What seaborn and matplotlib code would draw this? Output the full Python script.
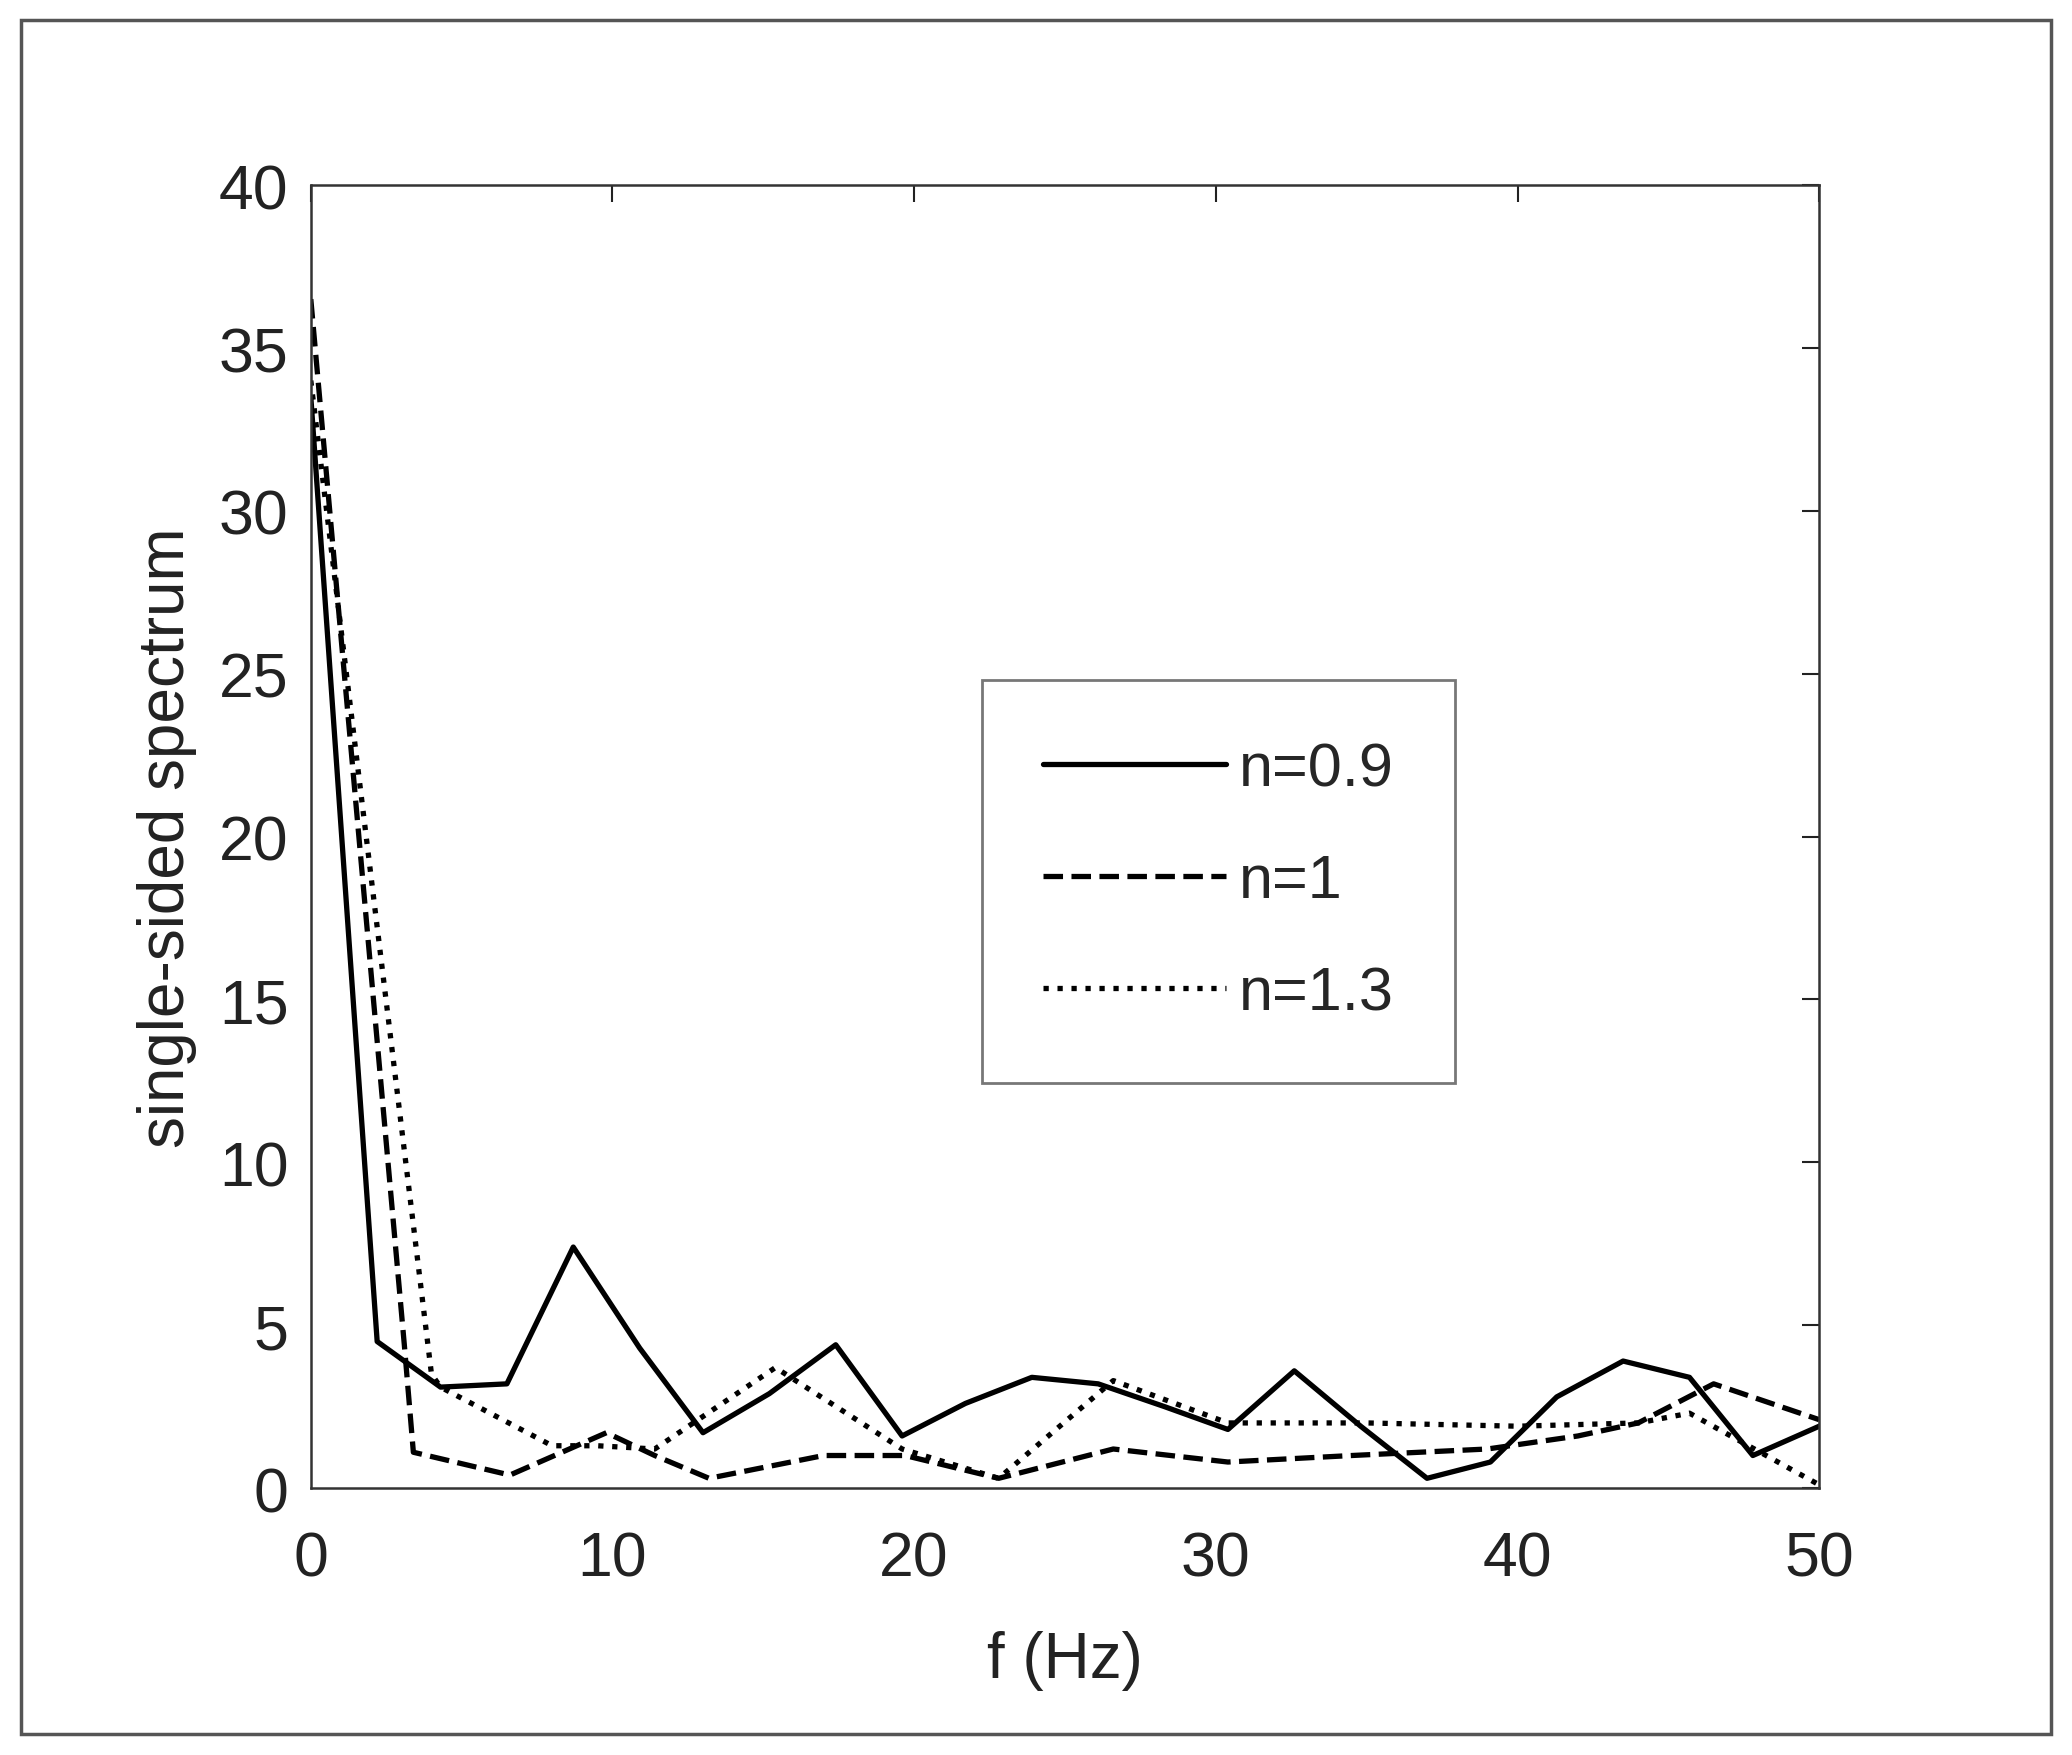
import matplotlib
matplotlib.use("Agg")
import matplotlib.pyplot as plt
import seaborn as sns
import pandas as pd
from matplotlib.patches import Rectangle

sns.set_theme(style="white")
plt.rcParams['font.family'] = ['Liberation Sans', 'DejaVu Sans']

f09 = [0, 2.2, 4.3, 6.5, 8.7, 10.9, 13.0, 15.2, 17.4, 19.6, 21.7, 23.9, 26.1, 28.3,
       30.4, 32.6, 34.8, 37.0, 39.1, 41.3, 43.5, 45.7, 47.8, 50.0]
s09 = [33.5, 4.5, 3.1, 3.2, 7.4, 4.3, 1.7, 2.9, 4.4, 1.6, 2.6, 3.4, 3.2, 2.5,
       1.8, 3.6, 1.9, 0.3, 0.8, 2.8, 3.9, 3.4, 1.0, 1.9]
f10 = [0, 3.1, 3.4, 6.6, 9.8, 11.4, 13.2, 17.0, 19.7, 22.8, 26.6, 30.4, 34.5, 39.0, 42.0, 44.0, 46.5, 50.0]
s10 = [36.5, 4.4, 1.1, 0.4, 1.7, 1.0, 0.3, 1.0, 1.0, 0.3, 1.2, 0.8, 1.0, 1.2, 1.6, 2.0, 3.2, 2.1]
f13 = [0, 4.0, 4.3, 8.0, 9.5, 11.4, 15.4, 19.6, 22.8, 26.6, 30.4, 35.0, 40.0, 44.0, 45.7, 50.0]
s13 = [34.0, 3.5, 3.1, 1.3, 1.3, 1.2, 3.7, 1.2, 0.3, 3.3, 2.0, 2.0, 1.9, 2.0, 2.3, 0.1]
labels = ["n=0.9", "n=1", "n=1.3"]
styles = ["-", "--", ":"]

fig = plt.figure(figsize=(20.72, 17.56), dpi=100)
fig.patches.append(Rectangle((0.01, 0.012), 0.98, 0.976, transform=fig.transFigure,
                             fill=False, edgecolor="#555555", linewidth=2.5))
ax = fig.add_axes([0.150, 0.152, 0.728, 0.742])

for fx, sy, lab, ls in zip([f09, f10, f13], [s09, s10, s13], labels, styles):
    df = pd.DataFrame({"f": fx, "s": sy})
    sns.lineplot(data=df, x="f", y="s", ax=ax, color="black", linestyle=ls,
                 linewidth=3.8, label=lab, sort=False)

ax.set_xlim(0, 50)
ax.set_ylim(0, 40)
ax.set_xticks(range(0, 51, 10))
ax.set_yticks(range(0, 41, 5))
ax.tick_params(axis="both", direction="in", length=12, width=1.5, top=True, right=True,
               labelsize=45, colors="#222222")
ax.tick_params(axis="x", pad=30)
ax.tick_params(axis="y", pad=16)
for sp in ax.spines.values():
    sp.set_color("#333333")
    sp.set_linewidth(1.8)
ax.set_xlabel("f (Hz)", fontsize=46, color="#222222", labelpad=30)
ax.set_ylabel("single-sided spectrum", fontsize=46, color="#222222", labelpad=16)

leg = ax.legend(loc="upper left", bbox_to_anchor=(0.445, 0.62), fontsize=44,
                frameon=True, fancybox=False, edgecolor="#555555", handlelength=3.0,
                borderpad=1.0, labelspacing=0.9, handletextpad=0.2, borderaxespad=0)
leg.get_frame().set_linewidth(2.0)

fig.savefig("out.png", dpi=100)
